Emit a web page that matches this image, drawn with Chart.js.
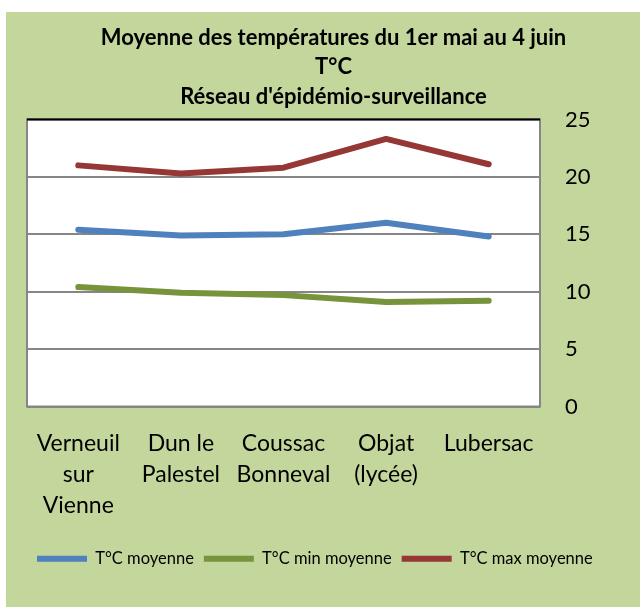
<!DOCTYPE html>
<html>
<head>
<meta charset="utf-8">
<script src="https://cdn.jsdelivr.net/npm/chart.js@4/dist/chart.umd.min.js"></script>
<style>
  body { margin: 0; background: #fff; }
  .box { position: absolute; left: 6px; top: 12px; width: 634px; height: 595px; background: #c3d69b; }
</style>
</head>
<body>
<div class="box"><canvas class="c1" width="634" height="595"></canvas></div>
<script>
const stations = [['Verneuil', 'sur', 'Vienne'], ['Dun le', 'Palestel'], ['Coussac', 'Bonneval'], ['Objat', '(lycée)'], 'Lubersac'];
const tMoyenne = [15.4, 14.9, 15.0, 16.0, 14.8];
const tMin = [10.4, 9.9, 9.7, 9.1, 9.2];
const tMax = [21.0, 20.3, 20.8, 23.3, 21.1];
const yTicks = [0, 5, 10, 15, 20, 25];

const font = 'Lato';

// white plot area + frame like the Excel sheet
const plotFrame = {
    id: 'plotFrame',
    beforeDraw(chart) {
        const a = chart.chartArea, c = chart.ctx;
        c.save();
        c.fillStyle = '#fff';
        c.fillRect(a.left, a.top, a.right - a.left, a.bottom - a.top);
        c.restore();
    },
    beforeDatasetsDraw(chart) {
        const a = chart.chartArea, c = chart.ctx;
        c.save();
        c.strokeStyle = '#868686';
        c.lineWidth = 2;
        c.strokeRect(a.left, a.top, a.right - a.left, a.bottom - a.top);
        c.strokeStyle = '#000';
        c.beginPath();
        c.moveTo(a.left, a.top);
        c.lineTo(a.right, a.top);
        c.stroke();
        c.restore();
    }
};

const ctx = document.querySelector('.c1').getContext('2d');
const myChart = new Chart(ctx, {
    type: 'line',
    data: {
        labels: stations,
        datasets: [{
            label: 'T°C moyenne',
            data: tMoyenne,
            borderColor: '#4f81bd',
            backgroundColor: '#4f81bd',
            borderWidth: 6
        }, {
            label: 'T°C min moyenne',
            data: tMin,
            borderColor: '#77933c',
            backgroundColor: '#77933c',
            borderWidth: 6
        }, {
            label: 'T°C max moyenne',
            data: tMax,
            borderColor: '#953735',
            backgroundColor: '#953735',
            borderWidth: 6
        }]
    },
    options: {
        responsive: false,
        animation: false,
        layout: { padding: { left: 21, right: 0, top: 0, bottom: 30 } },
        elements: {
            line: { tension: 0, borderCapStyle: 'round', borderJoinStyle: 'round' },
            point: { radius: 0 }
        },
        scales: {
            x: {
                offset: true,
                grid: { display: false },
                border: { display: false },
                ticks: {
                    color: '#000',
                    font: { family: font, size: 23, lineHeight: 1.36 },
                    padding: 13,
                    maxRotation: 0,
                    autoSkip: false
                },
                afterFit(scale) { scale.height = 134; }
            },
            y: {
                position: 'right',
                min: 0,
                max: 25,
                afterBuildTicks(scale) { scale.ticks = yTicks.map(v => ({ value: v })); },
                grid: { color: '#868686', lineWidth: 2, drawTicks: false },
                border: { display: false },
                ticks: {
                    color: '#000',
                    font: { family: font, size: 22 },
                    padding: 25
                },
                afterFit(scale) { scale.width = 100; }
            }
        },
        plugins: {
            title: {
                display: true,
                text: ['Moyenne des températures du 1er mai au 4 juin', 'T°C', "Réseau d'épidémio-surveillance"],
                color: '#000',
                font: { family: font, size: 22, weight: 'bold', lineHeight: 1.34 },
                padding: { top: 11, bottom: 8 }
            },
            legend: {
                position: 'bottom',
                align: 'start',
                labels: {
                    color: '#000',
                    font: { family: font, size: 16.5 },
                    usePointStyle: true,
                    pointStyle: 'line',
                    boxWidth: 50,
                    pointStyleWidth: 50,
                    padding: 10
                }
            },
            tooltip: { enabled: false }
        }
    },
    plugins: [plotFrame]
});
</script>
</body>
</html>
